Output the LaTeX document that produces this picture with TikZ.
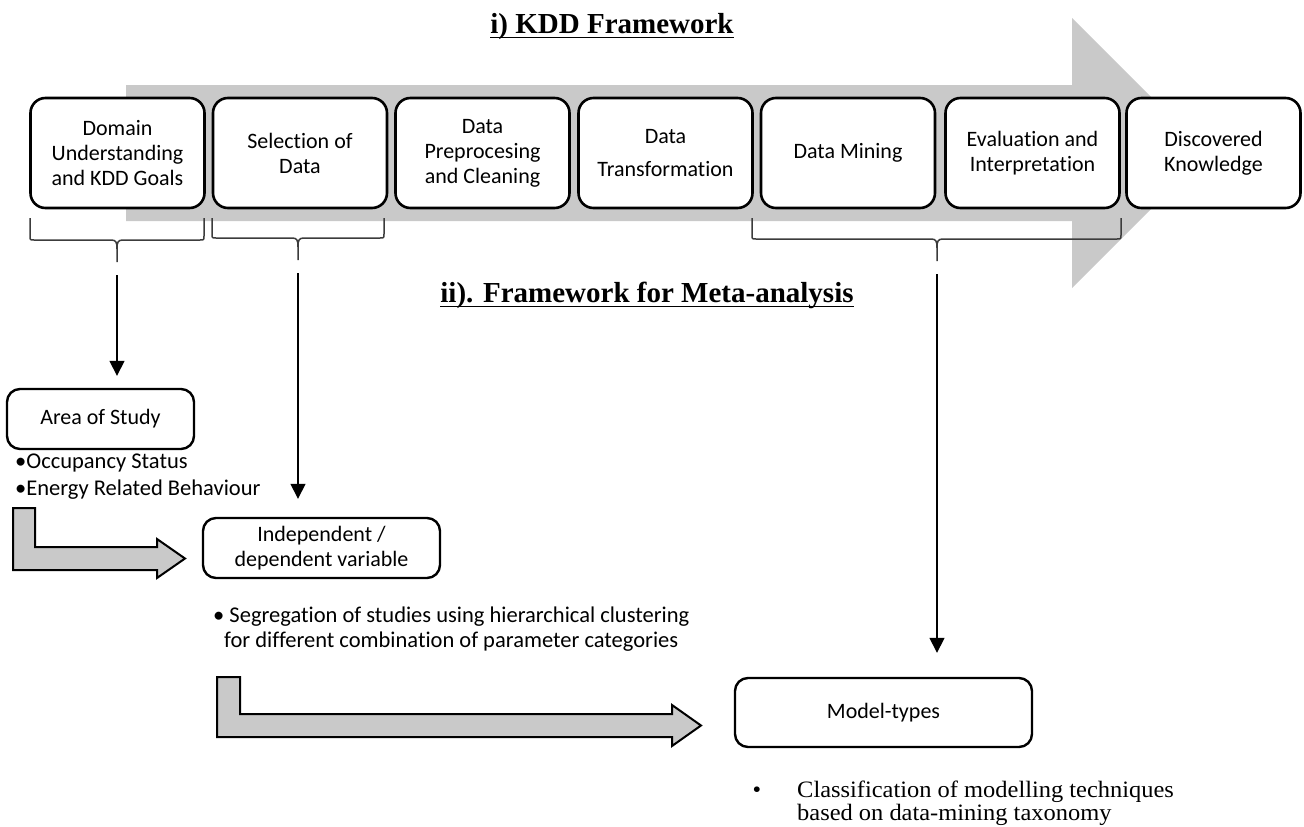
\documentclass[tikz,border=0pt]{standalone}
\usepackage{fontspec}
\setmainfont{Liberation Serif}
\newfontfamily\boxfont[Ligatures={NoCommon,NoContextual}]{Carlito}
\newfontfamily\notefont[FakeStretch=1.04]{Liberation Serif}
\usetikzlibrary{arrows.meta}

\definecolor{bandgray}{RGB}{201,201,201}
\definecolor{bracegray}{RGB}{60,60,60}

\tikzset{
  stage/.style={draw=black, line width=2.6pt, rounded corners=15pt, fill=white,
    minimum width=174pt, minimum height=110pt, inner sep=0pt, align=center,
    font={\boxfont\fontsize{22}{25}\selectfont}},
  result/.style={draw=black, line width=2.4pt, rounded corners=13pt, fill=white,
    inner sep=0pt, align=center, font={\boxfont\fontsize{22}{25}\selectfont}},
  heading/.style={inner sep=0pt, anchor=base, font={\fontsize{29}{34}\selectfont\bfseries}},
  note/.style={inner sep=0pt, anchor=base west, font={\boxfont\fontsize{22.5}{26}\selectfont}},
  serifnote/.style={inner sep=0pt, anchor=base west, font={\notefont\fontsize{23.5}{26}\selectfont}},
  brace/.style={draw=bracegray, line width=1.5pt, line join=round},
  link/.style={line width=1.5pt, -{Triangle[width=15pt,length=15pt]}},
  fatarrow/.style={draw=black, line width=2pt, fill=bandgray, line join=miter},
}

% curly brace under a group of stages: left x, right x, middle x, level y, name of start point
\newcommand{\stagebrace}[5]{%
  \draw[brace] (#1,218) -- (#1,#4-4) .. controls (#1,#4) .. (#1+4,#4) -- (#3-6,#4)
    .. controls (#3-1,#4) and (#3,#4+2) .. (#3,#4+9) -- (#3,#4+22);
  \draw[brace] (#2,218) -- (#2,#4-4) .. controls (#2,#4) .. (#2-4,#4) -- (#3+6,#4)
    .. controls (#3+1,#4) and (#3,#4+2) .. (#3,#4+9);
  \coordinate (#5) at (#3,#4+35);
}

\begin{document}
\begin{tikzpicture}[x=1pt,y=-1pt]
\useasboundingbox (0,0) rectangle (1304,827);

% process band behind the stages
\fill[bandgray] (126,85) -- (1072,85) -- (1072,18) -- (1207,153) -- (1072,288)
  -- (1072,221) -- (126,221) -- cycle;

% headings
\node[heading] (t1) at (612,33) {i) KDD Framework};
\draw[line width=1.8pt] ([yshift=-4.5pt]t1.base west) -- ([yshift=-4.5pt]t1.base east);
\node[heading] (t2) at (647,302) {ii). Framework for Meta-analysis};
\draw[line width=1.8pt] ([yshift=-4.5pt]t2.base west) -- ([yshift=-4.5pt]t2.base east);

% KDD stages
\node[stage] (d1) at (117.5,153) {Domain\\Understanding\\and KDD Goals};
\node[stage] (d2) at (300,153) {Selection of\\Data};
\node[stage] (d3) at (482.5,153) {Data\\Preprocesing\\and Cleaning};
\node[stage] (d4) at (665.5,153) {Data\\[8pt]Transformation};
\node[stage] (d5) at (848,153) {Data Mining};
\node[stage] (d6) at (1032.5,153) {Evaluation and\\Interpretation};
\node[stage] (d7) at (1213.5,153) {Discovered\\Knowledge};

% groupings of stages
\stagebrace{30}{204}{117}{240}{s1}
\stagebrace{212}{384}{298}{238}{s2}
\stagebrace{752}{1121}{937}{239}{s3}

% meta-analysis steps
\node[result, minimum width=187pt, minimum height=60pt] (area) at (100.5,419) {Area of Study};
\node[note] (o1) at (15,468) {\textbullet Occupancy Status};
\node[note] (o2) at (15,495) {\textbullet Energy Related Behaviour};

\node[result, minimum width=237pt, minimum height=60pt] (ind) at (321.5,548) {Independent /\\dependent variable};
\node[note] (g1) at (213,622) {\textbullet\ Segregation of studies using hierarchical clustering};
\node[note] (g2) at (224,647) {for different combination of parameter categories};

\node[result, minimum width=297pt, minimum height=69pt] (model) at (883.5,712.5) {Model-types};
\node[serifnote, anchor=base] (m0) at (757,797) {\textbullet};
\node[serifnote] (m1) at (797,797) {Classification of modelling techniques};
\node[serifnote] (m2) at (797,820) {based on data-mining taxonomy};

% links from the groupings
\draw[link, shorten >=12pt] (s1) -- (s1 |- area.north);
\draw[link, shorten >=18pt] (s2) -- (s2 |- ind.north);
\draw[link, shorten >=24pt] (s3) -- (s3 |- model.north);

% block arrows between the steps
\draw[fatarrow] (13,508) -- (35,508) -- (35,547) -- (157,547) -- (157,539) -- (185,558.5)
  -- (157,578) -- (157,570) -- (13,570) -- cycle;
\draw[fatarrow] (217,677) -- (240,677) -- (240,714) -- (672,714) -- (672,705) -- (701,725.5)
  -- (672,746) -- (672,737) -- (217,737) -- cycle;
\end{tikzpicture}
\end{document}
